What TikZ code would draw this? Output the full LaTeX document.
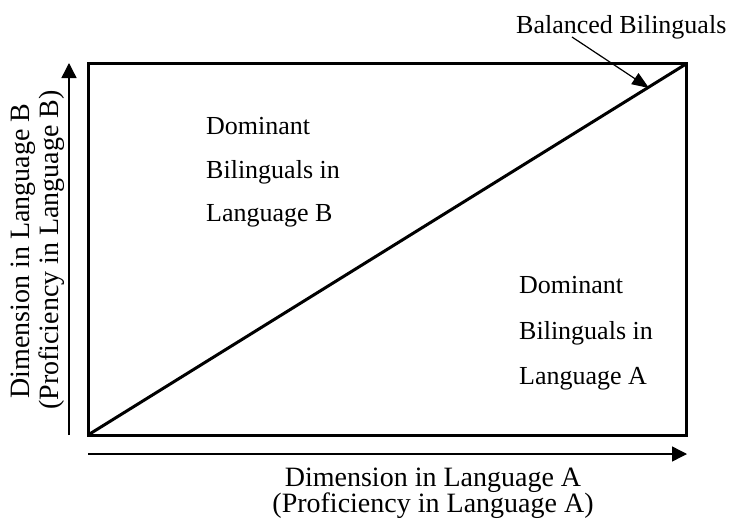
\documentclass[tikz,border=0pt]{standalone}
\usepackage{fontspec}
\setmainfont{Liberation Serif}
\usetikzlibrary{arrows.meta}
\tikzset{
  lbl/.style={inner sep=0pt, font=\fontsize{26}{26}\selectfont, anchor=base west},
  axlbl/.style={inner sep=0pt, font=\fontsize{28}{28}\selectfont, anchor=base},
  frame/.style={line width=3pt, line join=miter},
  axis/.style={line width=1.4pt, -{Triangle[width=15pt,length=15pt]}},
  pointer/.style={line width=1.2pt, -{Triangle[width=13pt,length=17pt]}}
}
\begin{document}
\begin{tikzpicture}[x=1pt,y=-1pt]
\useasboundingbox (0,0) rectangle (733,519);
% box corners
\coordinate (bl) at (88,435);
\coordinate (tr) at (686,64);
\draw[frame] (bl) rectangle (tr);
\draw[frame] (bl) -- (tr);
% axes
\coordinate (ys) at (69,435);
\coordinate (ye) at (69,63);
\coordinate (xs) at (88,454);
\coordinate (xe) at (687,454);
\draw[axis] (ys) -- (ye);
\draw[axis] (xs) -- (xe);
% labels
\node[lbl] (bal) at (516,34) {Balanced Bilinguals};
\coordinate (balstart) at (572,37);
\coordinate (baltip) at (649,88);
\draw[pointer] (balstart) -- (baltip);
\node[lbl] (b1) at (206,134) {Dominant};
\node[lbl] (b2) at (206,178) {Bilinguals in};
\node[lbl] (b3) at (206,221) {Language B};
\node[lbl] (a1) at (519,293) {Dominant};
\node[lbl] (a2) at (519,339) {Bilinguals in};
\node[lbl] (a3) at (519,384) {Language A};
\node[axlbl] (xl1) at (433,486) {Dimension in Language A};
\node[axlbl] (xl2) at (433,512) {(Proficiency in Language A)};
\node[axlbl, rotate=90] (yl1) at (29.5,251) {Dimension in Language B};
\node[axlbl, rotate=90] (yl2) at (58,250) {(Proficiency in Language B)};
\end{tikzpicture}
\end{document}
